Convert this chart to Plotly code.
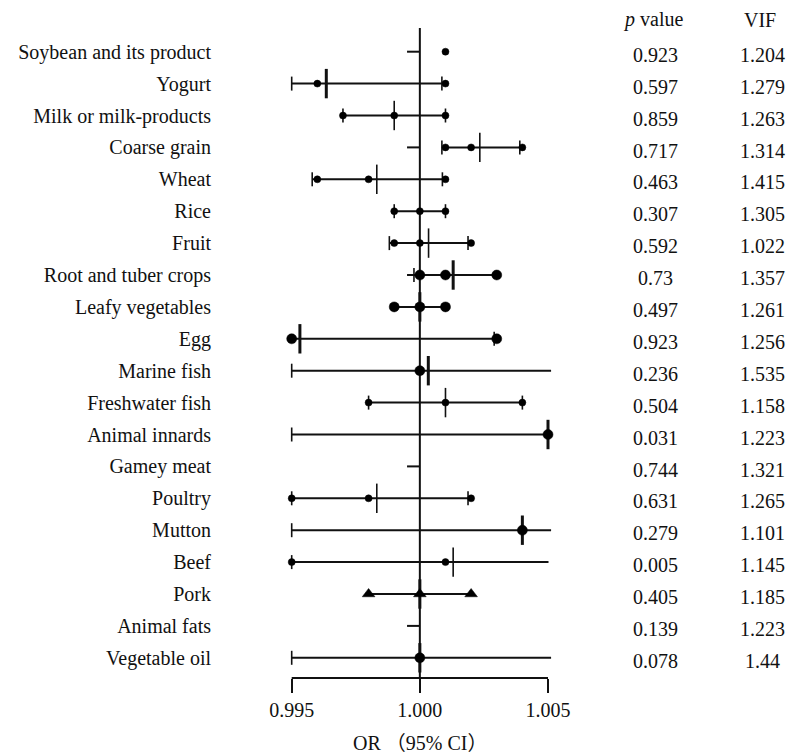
import plotly.graph_objects as go

labels = ["Soybean and its product", "Yogurt", "Milk or milk-products", "Coarse grain",
          "Wheat", "Rice", "Fruit", "Root and tuber crops", "Leafy vegetables", "Egg",
          "Marine fish", "Freshwater fish", "Animal innards", "Gamey meat", "Poultry",
          "Mutton", "Beef", "Pork", "Animal fats", "Vegetable oil"]
p_values = ["0.923", "0.597", "0.859", "0.717", "0.463", "0.307", "0.592", "0.73", "0.497", "0.923",
            "0.236", "0.504", "0.031", "0.744", "0.631", "0.279", "0.005", "0.405", "0.139", "0.078"]
vif_values = ["1.204", "1.279", "1.263", "1.314", "1.415", "1.305", "1.022", "1.357", "1.261", "1.256",
              "1.535", "1.158", "1.223", "1.321", "1.265", "1.101", "1.145", "1.185", "1.223", "1.44"]

# horizontal CI lines (None = no line)
ci_lower = [None, 0.995, 0.997, 1.001, 0.9958, 0.999, 0.99881, 0.9995, 0.999, 0.995,
            0.995, 0.998, 0.995, None, 0.995, 0.995, 0.995, 0.998, None, 0.995]
ci_upper = [None, 1.001, 1.001, 1.004, 1.001, 1.001, 1.002, 1.003, 1.001, 1.003,
            1.00512, 1.004, 1.005, None, 1.002, 1.00512, 1.00502, 1.002, None, 1.00512]
# short stub left of the reference line
stub_rows = [0, 3, 13, 18]
stub_lo, stub_hi = 0.9995, 1.0
# point markers
marker_pos = [[1.001], [0.996, 1.001], [0.997, 0.999, 1.001], [1.001, 1.002, 1.004],
              [0.996, 0.998, 1.001], [0.999, 1.000, 1.001], [0.999, 1.000, 1.002],
              [1.000, 1.001, 1.003], [0.999, 1.000, 1.001], [0.995, 1.003], [1.000],
              [0.998, 1.001, 1.004], [1.005], [], [0.995, 0.998, 1.002], [1.004],
              [0.995, 1.001], [0.998, 1.000, 1.002], [], [1.000]]
marker_size = [7, 7, 7, 7, 7, 7, 7, 10, 10, 10, 10, 7, 10, 7, 7, 10, 7, 11, 7, 10]
marker_symbol = ["circle"] * 17 + ["triangle-up", "circle", "circle"]
# vertical estimate ticks
tick_pos = [None, 0.99635, 0.999, 1.00234, 0.99832, None, 1.00034, 1.0013, 1.000, 0.99532,
            1.00033, 1.001, 1.005, None, 0.99832, 1.004, 1.0013, 1.000, None, 1.000]
tick_bold = [False, True, False, False, False, False, False, True, True, True,
             True, False, True, False, False, True, False, True, False, True]
# small end caps
cap_pos = [[], [0.995, 1.00086], [0.997, 1.001], [1.00086, 1.0039], [0.9958, 1.00088],
           [0.999, 1.001], [0.99881, 1.00188], [0.99977], [], [1.0029], [0.995],
           [0.998, 1.004], [0.995], [], [0.995, 1.00188], [0.995], [0.995], [], [], [0.995]]

x_ticks = [0.995, 1.000, 1.005]
x_ticktext = ["0.995", "1.000", "1.005"]

INK = "#111111"
FONT = "Liberation Serif, 'Noto Sans CJK SC', serif"

fig = go.Figure()

# CI lines
lx, ly = [], []
for i, (lo, hi) in enumerate(zip(ci_lower, ci_upper)):
    if lo is not None:
        lx += [lo, hi, None]
        ly += [i, i, None]
fig.add_trace(go.Scatter(x=lx, y=ly, mode="lines", line=dict(color=INK, width=2),
                         hoverinfo="skip", showlegend=False))
# stubs
sx, sy = [], []
for i in stub_rows:
    sx += [stub_lo, stub_hi, None]
    sy += [i, i, None]
fig.add_trace(go.Scatter(x=sx, y=sy, mode="lines", line=dict(color=INK, width=2),
                         hoverinfo="skip", showlegend=False))
# caps
cx, cy = [], []
for i, caps in enumerate(cap_pos):
    for c in caps:
        cx.append(c)
        cy.append(i)
fig.add_trace(go.Scatter(x=cx, y=cy, mode="markers",
                         marker=dict(symbol="line-ns", size=10, opacity=1,
                                     line=dict(color=INK, width=1.6)),
                         hoverinfo="skip", showlegend=False, cliponaxis=False))
# ticks
for bold in (False, True):
    tx = [t for t, b in zip(tick_pos, tick_bold) if t is not None and b == bold]
    ty = [i for i, (t, b) in enumerate(zip(tick_pos, tick_bold)) if t is not None and b == bold]
    fig.add_trace(go.Scatter(x=tx, y=ty, mode="markers",
                             marker=dict(symbol="line-ns", size=21, opacity=1,
                                         line=dict(color=INK, width=3 if bold else 1.6)),
                             hoverinfo="skip", showlegend=False, cliponaxis=False))
# markers
mx, my, ms, msym = [], [], [], []
for i, pos in enumerate(marker_pos):
    for p in pos:
        mx.append(p)
        my.append(i)
        ms.append(marker_size[i])
        msym.append(marker_symbol[i])
fig.add_trace(go.Scatter(x=mx, y=my, mode="markers",
                         marker=dict(symbol=msym, size=ms, color="#000000", opacity=1,
                                     line=dict(color="#000000", width=0.5)),
                         hoverinfo="skip", showlegend=False, cliponaxis=False))

# layout geometry (page body adds an 8px offset; coordinates below are figure pixels)
OFF = 8
W, H = 798 - OFF, 754 - OFF
L, R = 204, 0
T = 28 - OFF
B = H - (678 - OFF)
pw = W - L - R
ph = H - T - B
px_per_unit = 25630.0
x0_px = (291.7 - OFF) - L
xmin = 0.995 - x0_px / px_per_unit
xmax = xmin + pw / px_per_unit
row0_px, row_step = 51.7 - OFF, 31.9
y_top = (T - row0_px) / row_step
y_bot = (T + ph - row0_px) / row_step

fig.update_layout(
    width=W, height=H, margin=dict(l=L, r=R, t=T, b=B, autoexpand=False),
    plot_bgcolor="white", paper_bgcolor="white",
    font=dict(family=FONT, size=20, color=INK),
    xaxis=dict(range=[xmin, xmax], showgrid=False, zeroline=False, showline=False,
               tickmode="array", tickvals=x_ticks, ticktext=x_ticktext,
               ticks="outside", ticklen=14, tickwidth=2, tickcolor=INK,
               tickfont=dict(family=FONT, size=20, color=INK), automargin=False),
    yaxis=dict(range=[y_bot, y_top], showgrid=False, zeroline=False, showline=False,
               tickmode="array", tickvals=list(range(len(labels))), ticktext=labels,
               ticks="", tickfont=dict(family=FONT, size=20, color=INK), automargin=False),
    shapes=[
        dict(type="line", xref="x", yref="paper", x0=1.0, x1=1.0, y0=0, y1=1,
             line=dict(color=INK, width=2), layer="below"),
        dict(type="line", xref="x", yref="paper", x0=x_ticks[0], x1=x_ticks[-1], y0=0, y1=0,
             line=dict(color=INK, width=2)),
    ],
)

ann = []
p_x = (655 - OFF - L) / pw
v_x = (762 - OFF - L) / pw
for i, (p, v) in enumerate(zip(p_values, vif_values)):
    ann.append(dict(x=p_x, y=i + 0.1, xref="paper", yref="y", text=p, showarrow=False,
                    xanchor="center", yanchor="middle", font=dict(family=FONT, size=20, color=INK)))
    ann.append(dict(x=v_x, y=i + 0.1, xref="paper", yref="y", text=v, showarrow=False,
                    xanchor="center", yanchor="middle", font=dict(family=FONT, size=20, color=INK)))
hdr_y = ((678 - OFF) - (20 - OFF)) / ph
ann.append(dict(x=(653 - OFF - L) / pw, y=hdr_y, xref="paper", yref="paper",
                text="<i>p</i> value", showarrow=False, xanchor="center", yanchor="middle",
                font=dict(family=FONT, size=20, color=INK)))
ann.append(dict(x=(760 - OFF - L) / pw, y=hdr_y, xref="paper", yref="paper",
                text="VIF", showarrow=False, xanchor="center", yanchor="middle",
                font=dict(family=FONT, size=20, color=INK)))
ann.append(dict(x=1.0, y=-(743 - 678) / ph, xref="x", yref="paper",
                text="OR （95% CI）", showarrow=False, xanchor="center", yanchor="middle",
                font=dict(family=FONT, size=20, color=INK)))
fig.update_layout(annotations=ann)

fig.write_html("out.html")
